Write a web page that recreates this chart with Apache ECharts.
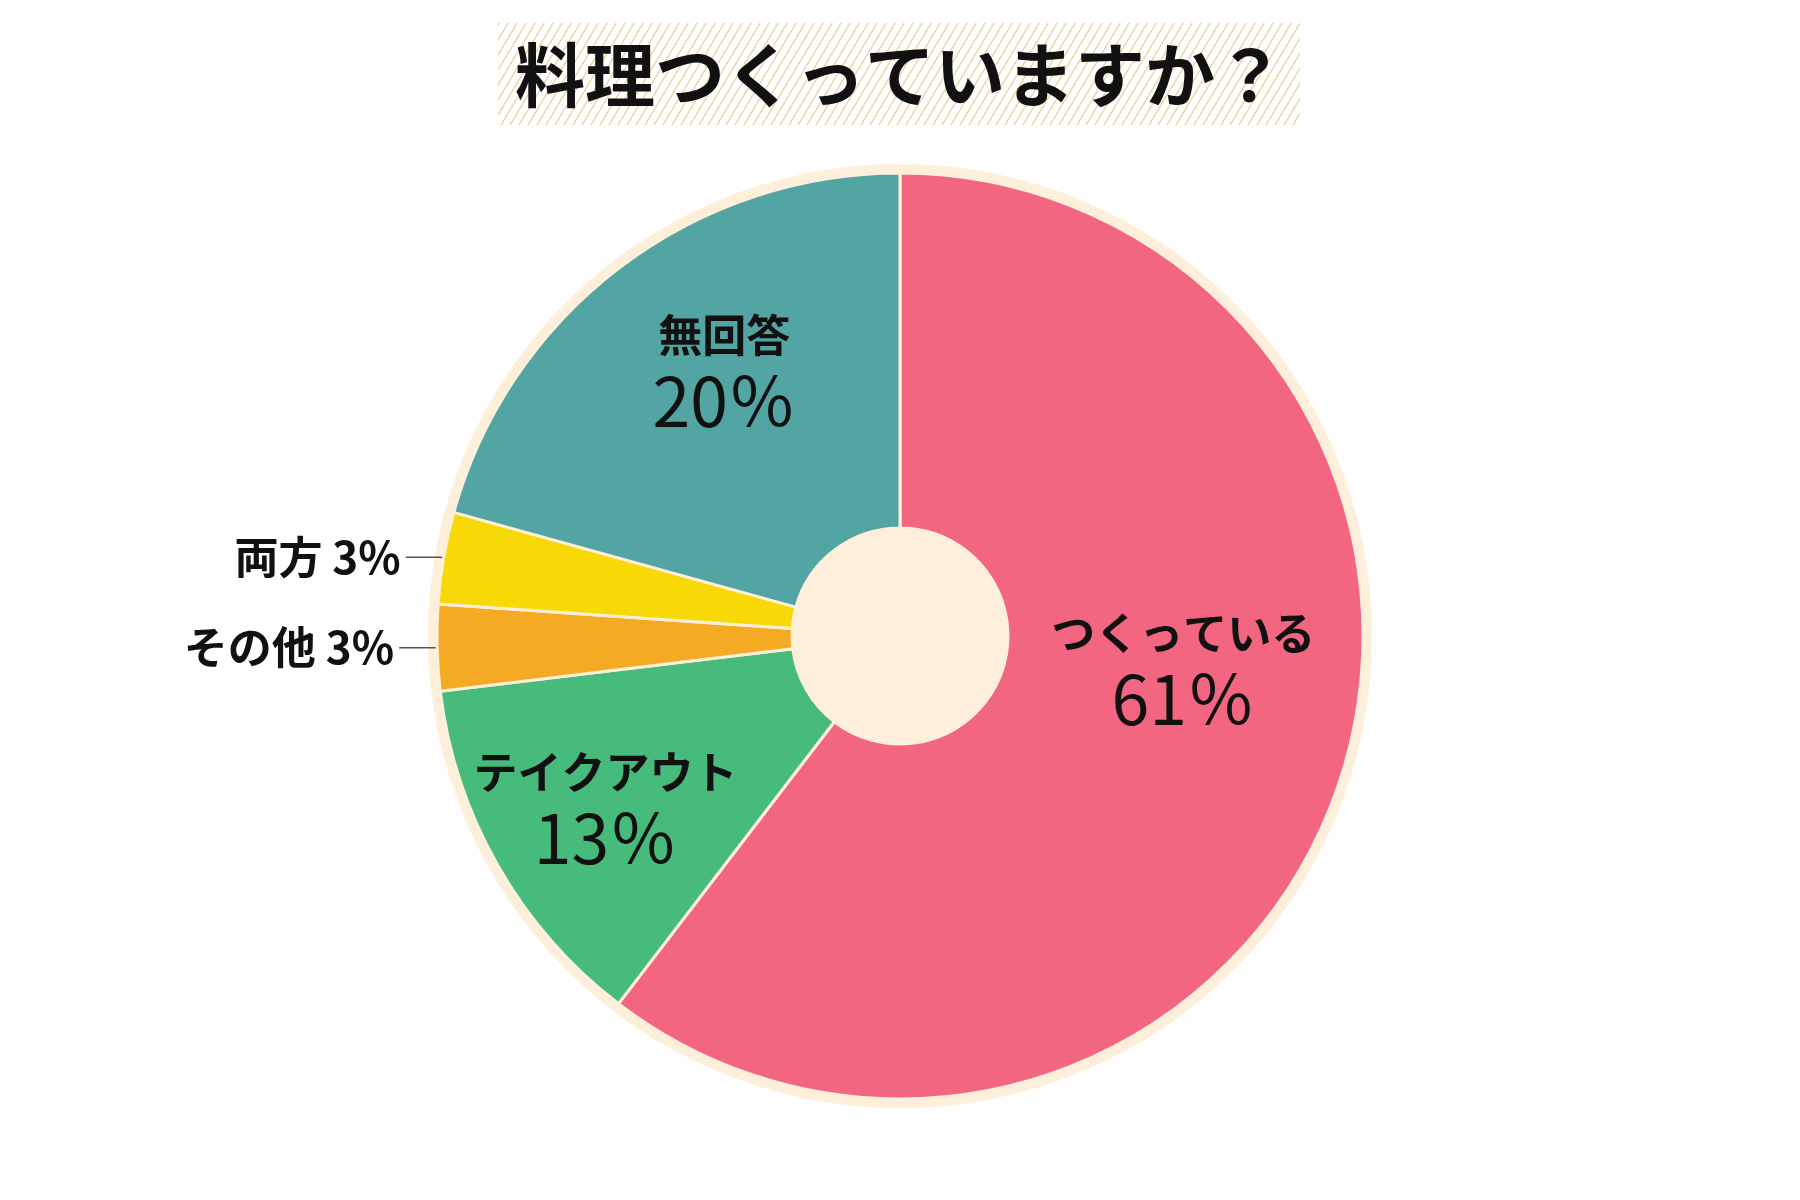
<!DOCTYPE html>
<html>
<head>
<meta charset="utf-8">
<script src="https://cdn.jsdelivr.net/npm/echarts@6/dist/echarts.min.js"></script>
<style>
html,body{margin:0;padding:0;background:#fff;}
#chart{width:1800px;height:1200px;}
</style>
</head>
<body>
<div id="chart"></div>
<script>
const titleText = '料理つくっていますか？';
const categories = ['つくっている', 'テイクアウト', 'その他', '両方', '無回答'];
const shares = [60.4, 12.7, 3.0, 3.2, 20.7];
const pctLabels = ['61％', '13％', '3%', '3%', '20％'];
const sliceColors = ['#f36681', '#47bb7c', '#f5aa23', '#f7da05', '#52a5a3'];

const cream = '#fdefda';
const FONT = '"Noto Sans CJK JP", "Noto Sans", sans-serif';

// hatch pattern for the title band
const tile = document.createElement('canvas');
tile.width = 9; tile.height = 15;
const tctx = tile.getContext('2d');
tctx.strokeStyle = '#ead19c';
tctx.lineWidth = 1.3;
[[-9, 0], [0, 0], [9, 0]].forEach(function (o) {
  tctx.beginPath();
  tctx.moveTo(o[0], 15);
  tctx.lineTo(o[0] + 9, 0);
  tctx.stroke();
});

const insideOffsets = { 0: [10, -58], 1: [-44, 30], 4: [-1, -34] };

const pieData = categories.map(function (c, i) {
  const outside = shares[i] < 5;
  const item = { name: c, value: shares[i], itemStyle: { color: sliceColors[i] } };
  if (outside) {
    item.label = {
      position: 'outside',
      formatter: '{o|' + c + ' ' + pctLabels[i] + '}'
    };
    item.labelLine = { show: true, length: 4, length2: 34, lineStyle: { color: '#555', width: 1.5 } };
  } else {
    item.label = {
      position: 'inside',
      formatter: '{n|' + c + '}\n{p|' + pctLabels[i] + '}'
    };
    item.labelLine = { show: false };
  }
  return item;
});

const chart = echarts.init(document.getElementById('chart'), null, { renderer: 'canvas' });
chart.setOption({
  animation: false,
  backgroundColor: '#ffffff',
  title: {
    text: titleText,
    left: 'center',
    top: 35,
    padding: 0,
    textStyle: { fontFamily: FONT, fontSize: 70, fontWeight: 'bold', color: '#111', lineHeight: 80 }
  },
  graphic: [{
    type: 'rect',
    z: -10,
    silent: true,
    shape: { x: 498, y: 23, width: 802, height: 102 },
    style: { fill: { image: tile, repeat: 'repeat' } }
  }],
  series: [
    {
      type: 'pie',
      z: 1,
      silent: true,
      center: [900, 636],
      radius: [0, 472],
      label: { show: false },
      labelLine: { show: false },
      itemStyle: { color: cream, borderWidth: 0 },
      emphasis: { disabled: true },
      data: [{ value: 1, name: '' }]
    },
    {
      type: 'pie',
      z: 2,
      center: [900, 636],
      radius: [108, 463],
      startAngle: 90,
      clockwise: true,
      avoidLabelOverlap: false,
      itemStyle: { borderColor: cream, borderWidth: 3 },
      emphasis: { disabled: true },
      label: {
        show: true,
        color: '#111',
        rich: {
          n: { fontFamily: FONT, fontSize: 44, fontWeight: 'bold', color: '#111', lineHeight: 58, align: 'center' },
          p: { fontFamily: FONT, fontSize: 68, fontWeight: 'normal', color: '#111', lineHeight: 74, align: 'center' },
          o: { fontFamily: FONT, fontSize: 44, fontWeight: 'bold', color: '#111' }
        }
      },
      labelLayout: function (params) {
        const off = insideOffsets[params.dataIndex];
        if (off) return { dx: off[0], dy: off[1] };
        return {};
      },
      data: pieData
    }
  ]
});
</script>
</body>
</html>
